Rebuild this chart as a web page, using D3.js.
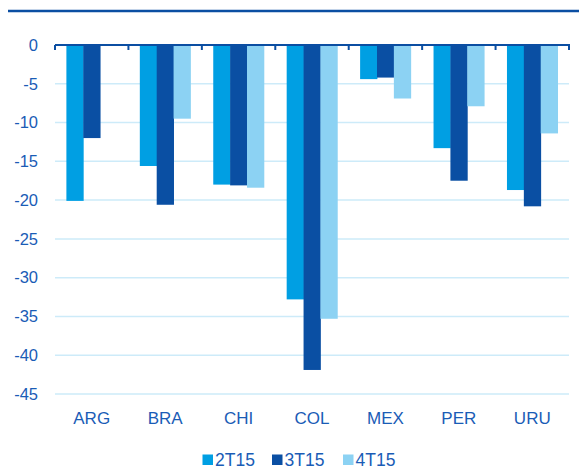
<!DOCTYPE html>
<html>
<head>
<meta charset="utf-8">
<script src="https://cdn.jsdelivr.net/npm/d3@7/dist/d3.min.js"></script>
<style>
  html, body { margin: 0; padding: 0; background: #fff; }
  svg { display: block; }
  text { font-family: "Liberation Sans", Arial, sans-serif; fill: #1a5cb6; }
</style>
</head>
<body>
<svg id="chart" width="579" height="469"></svg>
<script>
// Countries on the x axis
const categories = ["ARG", "BRA", "CHI", "COL", "MEX", "PER", "URU"];
// Quarter series
const seriesNames = ["2T15", "3T15", "4T15"];
const values2T15 = [-20.1, -15.6, -18.0, -32.8, -4.4, -13.3, -18.7];
const values3T15 = [-12.0, -20.6, -18.1, -41.9, -4.2, -17.5, -20.8];
const values4T15 = [null, -9.5, -18.4, -35.3, -6.9, -7.9, -11.4];
const yTicks = [0, -5, -10, -15, -20, -25, -30, -35, -40, -45];
const colors = ["#009fe3", "#0a4fa3", "#8cd2f3"];

const seriesValues = [values2T15, values3T15, values4T15];
const rows = categories.map((c, i) => ({
  cat: c,
  vals: seriesNames.map((s, j) => ({ key: s, value: seriesValues[j][i] }))
}));

const svg = d3.select("#chart");

// header rule
svg.append("line")
  .attr("x1", 8).attr("x2", 579)
  .attr("y1", 11).attr("y2", 11)
  .attr("stroke", "#0b4ea2").attr("stroke-width", 2.5);

const x = d3.scaleBand().domain(categories).range([55, 569]).paddingInner(0).paddingOuter(0);
const xs = d3.scaleBand().domain(seriesNames).range([0, x.bandwidth()]).paddingInner(0).paddingOuter(0.675);
const y = d3.scaleLinear().domain([-45, 0]).range([394, 45]);
const color = d3.scaleOrdinal().domain(seriesNames).range(colors);

// gridlines
svg.append("g")
  .selectAll("line")
  .data(yTicks.filter(t => t !== 0))
  .join("line")
  .attr("x1", 55).attr("x2", 569)
  .attr("y1", d => y(d)).attr("y2", d => y(d))
  .attr("stroke", "#cdebf9").attr("stroke-width", 1.5);

// y axis labels
const yAxis = d3.axisLeft(y).tickValues(yTicks).tickSize(0).tickPadding(0)
  .tickFormat(d => d3.format("d")(d).replace("−", "-"));
const gy = svg.append("g").attr("transform", "translate(38,0)").call(yAxis);
gy.select(".domain").remove();
gy.selectAll("text")
  .attr("font-size", 16.5)
  .attr("fill", "#1a5cb6")
  .attr("font-family", "'Liberation Sans', Arial, sans-serif");

// bars
svg.append("g")
  .selectAll("g")
  .data(rows)
  .join("g")
  .attr("transform", d => `translate(${x(d.cat)},0)`)
  .selectAll("rect")
  .data(d => d.vals.filter(v => v.value !== null))
  .join("rect")
  .attr("x", d => xs(d.key))
  .attr("width", xs.bandwidth() + 0.4)
  .attr("y", y(0))
  .attr("height", d => y(d.value) - y(0))
  .attr("fill", d => color(d.key));

// category axis along zero line, ticks pointing down at band edges
const gx = svg.append("g");
gx.append("line")
  .attr("x1", 55).attr("x2", 570)
  .attr("y1", y(0)).attr("y2", y(0))
  .attr("stroke", "#0b4ea2").attr("stroke-width", 2.2);
const edges = categories.map(c => x(c)).concat([x.range()[1]]);
gx.selectAll("line.tick")
  .data(edges)
  .join("line")
  .attr("class", "tick")
  .attr("x1", d => d).attr("x2", d => d)
  .attr("y1", y(0)).attr("y2", y(0) + 5)
  .attr("stroke", "#0b4ea2").attr("stroke-width", 2);

// category labels
svg.append("g")
  .selectAll("text")
  .data(categories)
  .join("text")
  .attr("x", d => x(d) + x.bandwidth() / 2)
  .attr("y", 424)
  .attr("text-anchor", "middle")
  .attr("font-size", 17)
  .text(d => d);

// legend
const legendX = [202.5, 272, 343];
const lg = svg.append("g")
  .selectAll("g")
  .data(seriesNames)
  .join("g")
  .attr("transform", (d, i) => `translate(${legendX[i]},0)`);
lg.append("rect")
  .attr("x", 0).attr("y", 454.5)
  .attr("width", 10.5).attr("height", 10.5)
  .attr("fill", d => color(d));
lg.append("text")
  .attr("x", 12.5).attr("y", 465.5)
  .attr("font-size", 17.5)
  .text(d => d);
</script>
</body>
</html>
